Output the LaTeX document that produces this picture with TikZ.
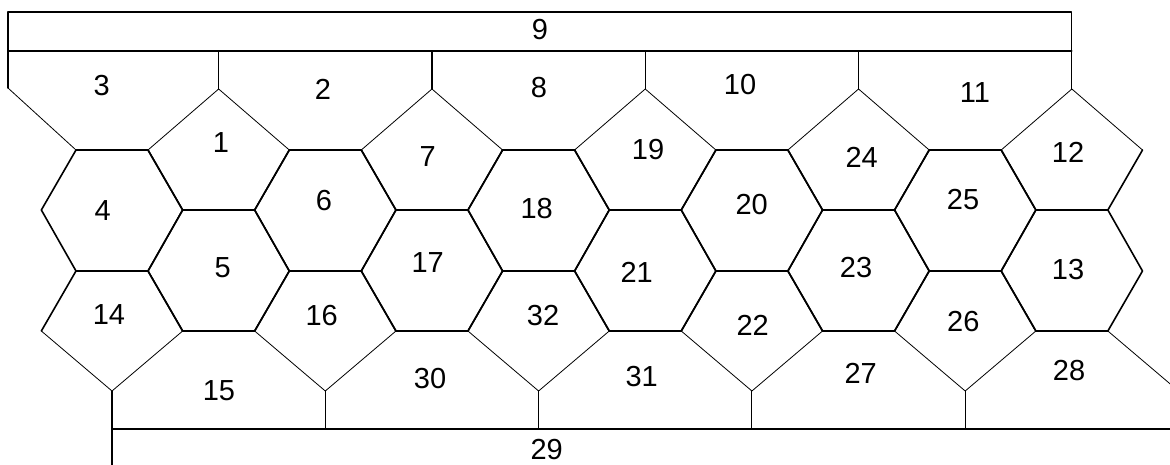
\documentclass[tikz,border=0pt]{standalone}
\usepackage{fontspec}
\setmainfont{Liberation Sans}
\tikzset{
  hl/.style={line width=1.1pt},
  steep/.style={line width=1.6pt},
  shallow/.style={line width=0.8pt},
  boldedge/.style={line width=2.8pt},
  lbl/.style={font=\fontsize{29}{32}\selectfont, inner sep=0pt}
}
\begin{document}
\begin{tikzpicture}[x=1pt,y=-1pt,line cap=round,line join=round]
\useasboundingbox (0,0) rectangle (1170,465);
\fill[white] (0,0) rectangle (1170,465);
\clip (0,0) rectangle (1170,465);
% top band
\draw[hl] (8,88) -- (8,12) -- (1071.85,12) -- (1071.85,89);
\draw[hl] (8,51) -- (1071.85,51);
\draw[shallow] (8,88) -- (76,150);
% even columns
\foreach \k in {0,2,4,6,8} {
  \pgfmathsetmacro\cx{112+106.65*\k}
  \draw[hl] (\cx-36,150) -- (\cx+36,150);
  \draw[steep] (\cx-36,150) -- (\cx-70.65,210) -- (\cx-36,271) -- (\cx-70.65,331);
  \draw[steep] (\cx+36,150) -- (\cx+70.65,210) -- (\cx+36,271) -- (\cx+70.65,331);
  \draw[hl] (\cx-36,271) -- (\cx+36,271);
  \draw[shallow] (\cx-70.65,331) -- (\cx,391) -- (\cx+70.65,331);
  \draw[hl] (\cx,391) -- (\cx,429);
}
% odd columns
\foreach \k in {1,3,5,7,9} {
  \pgfmathsetmacro\cx{112+106.65*\k}
  \draw[hl] (\cx,51) -- (\cx,89);
  \draw[shallow] (\cx-70.65,150) -- (\cx,89) -- (\cx+70.65,150);
  \draw[steep] (\cx-70.65,150) -- (\cx-36,210) -- (\cx-70.65,271) -- (\cx-36,331);
  \draw[steep] (\cx+70.65,150) -- (\cx+36,210) -- (\cx+70.65,271) -- (\cx+36,331);
  \draw[hl] (\cx-36,210) -- (\cx+36,210);
  \draw[hl] (\cx-36,331) -- (\cx+36,331);
}
% special thick edge above 18
\draw[boldedge] (502.6,150) -- (574.6,150);
% bottom band
\draw[hl] (112,429) -- (1180,429);
\draw[hl] (112,429) -- (112,465);
\draw[shallow] (1107.85,331) -- (1178.5,391);
% labels
\node[lbl] (c9) at (540,30) {9};
\node[lbl] (c3) at (101.7,86) {3};
\node[lbl] (c2) at (323,89) {2};
\node[lbl] (c8) at (539,88) {8};
\node[lbl] (c10) at (740,85) {10};
\node[lbl] (c11) at (975,92.7) {11};
\node[lbl] (c1) at (221,142.7) {1};
\node[lbl] (c7) at (427.7,157) {7};
\node[lbl] (c19) at (648,150) {19};
\node[lbl] (c24) at (861.7,157.7) {24};
\node[lbl] (c12) at (1068,152.7) {12};
\node[lbl] (c4) at (102.7,211) {4};
\node[lbl] (c6) at (324,201) {6};
\node[lbl] (c18) at (536.7,209) {18};
\node[lbl] (c20) at (751.7,205) {20};
\node[lbl] (c25) at (963,200) {25};
\node[lbl] (c5) at (222.7,267.7) {5};
\node[lbl] (c17) at (427.7,263) {17};
\node[lbl] (c21) at (636.7,272.7) {21};
\node[lbl] (c23) at (856,268) {23};
\node[lbl] (c13) at (1068,270) {13};
\node[lbl] (c14) at (109,315) {14};
\node[lbl] (c16) at (321.7,315.7) {16};
\node[lbl] (c32) at (543,315.7) {32};
\node[lbl] (c22) at (752.7,325) {22};
\node[lbl] (c26) at (963.3,321.7) {26};
\node[lbl] (c15) at (219,390.7) {15};
\node[lbl] (c30) at (430,379) {30};
\node[lbl] (c31) at (641.7,377) {31};
\node[lbl] (c27) at (860.7,373) {27};
\node[lbl] (c28) at (1069,370.7) {28};
\node[lbl] (c29) at (546.7,450) {29};
\end{tikzpicture}
\end{document}
